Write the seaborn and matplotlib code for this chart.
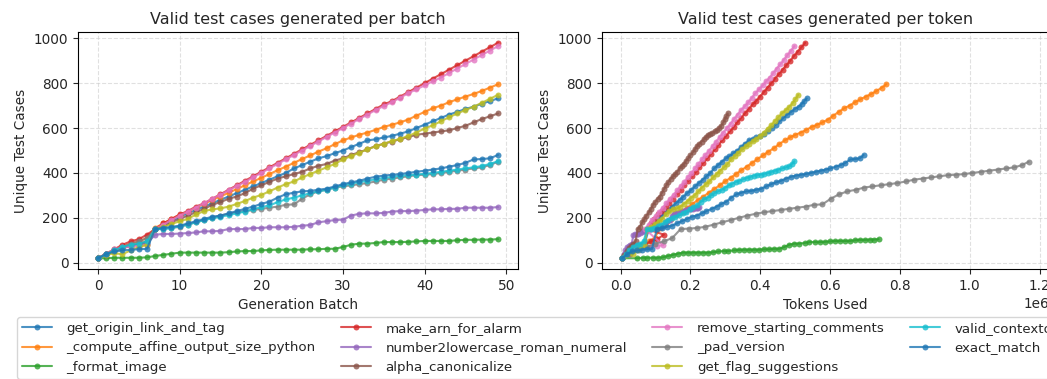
import matplotlib
matplotlib.use("Agg")
import matplotlib.pyplot as plt
import seaborn as sns
import pandas as pd
import numpy as np

sns.set_style("ticks")
plt.rcParams['font.family'] = ['DejaVu Sans']

batches = list(range(50))

names = [
    "get_origin_link_and_tag",
    "_compute_affine_output_size_python",
    "_format_image",
    "make_arn_for_alarm",
    "number2lowercase_roman_numeral",
    "alpha_canonicalize",
    "remove_starting_comments",
    "_pad_version",
    "get_flag_suggestions",
    "valid_contexto",
    "exact_match",
]

# Unique test cases per batch
y_get_origin = [20,40,55,65,75,80,90,150,165,185,205,220,235,250,265,280,295,310,325,340,355,370,385,400,420,435,450,465,475,488,500,515,530,545,550,558,565,575,585,600,615,630,645,660,672,685,695,708,720,732]
y_affine = [20,40,58,72,85,95,110,155,175,195,212,228,245,262,280,295,312,328,345,362,378,395,412,428,445,462,478,495,510,528,545,558,570,580,592,605,615,625,638,655,672,688,700,715,728,740,752,765,780,795]
y_format_image = [20,20,22,22,22,22,24,30,35,40,45,45,45,45,45,45,47,50,52,52,55,57,58,58,58,58,60,60,62,62,70,80,85,85,88,92,92,92,93,95,97,97,97,97,100,102,102,103,103,105]
y_make_arn = [20,40,60,80,95,105,125,150,175,195,215,230,250,265,285,305,325,345,365,385,405,425,445,465,485,505,525,545,565,585,605,625,645,665,685,705,720,740,760,780,800,820,840,860,880,900,920,940,960,980]
y_roman = [20,38,55,70,75,80,85,125,128,128,130,132,135,140,140,142,150,150,150,155,155,158,158,158,160,165,168,180,185,190,192,210,218,220,220,222,228,230,230,232,235,238,238,240,240,245,245,245,245,248]
y_alpha = [20,35,50,65,75,85,95,150,160,180,195,210,225,240,258,270,285,295,310,330,345,360,375,385,395,405,420,432,440,455,465,480,492,505,520,530,540,550,560,570,575,580,585,590,600,610,625,640,652,665]
y_remove_comments = [20,40,60,68,72,75,78,150,170,190,210,228,246,265,285,303,322,342,360,380,400,420,440,460,480,500,520,540,560,580,600,620,640,660,680,698,715,735,755,772,790,808,825,845,865,885,905,925,945,965]
y_pad_version = [20,38,55,70,85,95,110,150,152,155,160,170,180,190,200,210,218,225,230,235,240,245,250,258,260,285,305,318,325,335,340,345,350,355,362,370,375,380,385,390,392,395,400,405,410,415,420,425,435,450]
y_flag = [20,35,42,38,55,70,80,150,160,172,185,195,215,230,238,242,250,262,275,290,302,318,335,350,362,380,395,410,425,440,460,475,490,505,518,530,542,552,565,580,598,612,630,648,665,680,695,712,730,748]
y_contexto = [20,38,55,70,80,85,95,150,150,155,162,170,180,190,198,205,212,220,228,238,248,255,270,282,290,300,310,318,325,335,345,352,360,365,372,378,382,388,390,393,396,400,405,410,415,420,425,430,440,452]
y_exact = [20,38,50,55,58,60,62,150,155,160,165,175,185,195,205,210,220,230,240,250,262,272,290,305,312,318,320,325,330,340,350,358,365,375,383,388,392,395,400,405,410,415,420,428,435,445,460,462,465,480]

# Cumulative tokens used (thousands)
t_get_origin = [5,15,26,37,48,59,70,81,92,103,114,125,136,147,158,169,180,191,202,213,224,235,246,257,268,279,290,301,312,323,334,345,356,367,378,389,400,411,422,433,444,455,466,477,488,499,510,519,526,533]
t_affine = [5,20,36,51,67,82,98,113,129,144,160,175,191,206,222,237,253,268,284,299,315,330,346,361,377,392,408,423,439,454,470,485,501,516,532,547,563,578,594,609,625,640,656,671,687,702,718,733,748,761]
t_format_image = [5,48,63,77,92,106,121,135,150,164,179,193,208,222,237,251,266,280,295,309,324,338,353,367,382,396,411,425,440,454,469,483,498,512,527,541,556,570,585,599,614,628,643,657,672,686,701,715,727,739]
t_make_arn = [5,25,45,65,88,105,124,75,86,97,108,118,129,140,151,162,172,183,194,205,216,226,237,248,259,270,280,291,302,313,324,334,345,356,367,378,388,399,410,421,432,442,453,464,475,486,496,507,518,529]
t_roman = [5,9,14,18,23,27,32,37,41,46,50,55,60,64,69,73,78,83,87,92,96,101,106,110,115,119,124,129,133,138,142,147,152,156,161,165,170,175,179,184,188,193,198,202,207,211,216,220,223,226]
t_alpha = [5,11,17,24,30,36,43,49,55,62,68,74,81,87,93,99,106,112,118,125,131,137,144,150,156,162,169,175,181,188,194,200,207,213,219,225,232,238,244,251,257,263,270,276,282,288,294,299,303,307]
t_remove_comments = [5,25,45,65,85,103,122,70,80,90,101,111,121,131,141,152,162,172,182,192,203,213,223,233,243,254,264,274,284,294,305,315,325,335,345,356,366,376,386,396,407,417,427,437,447,458,468,478,488,498]
t_pad_version = [5,28,52,76,100,124,148,172,196,220,243,267,291,315,339,363,387,411,435,459,482,506,530,554,578,602,626,650,674,698,721,745,769,793,817,841,865,889,913,937,960,984,1008,1032,1056,1080,1104,1128,1150,1169]
t_flag = [5,15,25,36,46,57,67,77,88,98,109,119,129,140,150,161,171,181,192,202,213,223,233,244,254,265,275,285,296,306,317,327,337,348,358,369,379,389,400,410,421,431,441,452,462,473,483,493,501,509]
t_contexto = [5,15,25,35,46,56,66,76,86,96,107,117,127,137,147,157,168,178,188,198,208,218,229,239,249,259,269,279,290,300,310,320,330,340,351,361,371,381,391,401,412,422,432,442,452,462,473,483,491,498]
t_exact = [5,19,33,48,62,76,90,104,119,133,147,161,175,190,204,218,232,246,261,275,289,303,317,332,346,360,374,388,403,417,431,445,459,474,488,502,516,530,545,559,573,587,601,616,630,644,658,672,685,696]

ys = [y_get_origin, y_affine, y_format_image, y_make_arn, y_roman, y_alpha,
      y_remove_comments, y_pad_version, y_flag, y_contexto, y_exact]
ts = [t_get_origin, t_affine, t_format_image, t_make_arn, t_roman, t_alpha,
      t_remove_comments, t_pad_version, t_flag, t_contexto, t_exact]

colors = sns.color_palette("tab10", 10)
colors = colors + [colors[0]]

W, H = 1047, 379
fig = plt.figure(figsize=(W / 100, H / 100), dpi=100)
ax1 = fig.add_axes([78 / W, 1 - 269 / H, 440 / W, 237 / H])
ax2 = fig.add_axes([602 / W, 1 - 269 / H, 447 / W, 237 / H])

for name, y, t, c in zip(names, ys, ts, colors):
    df = pd.DataFrame({"batch": batches, "cases": y,
                       "tokens": np.array(t, dtype=float) * 1000.0})
    sns.lineplot(data=df, x="batch", y="cases", ax=ax1, color=c, marker="o",
                 markersize=4.3, markeredgewidth=0, alpha=0.8,
                 sort=False, estimator=None, legend=False)
    sns.lineplot(data=df, x="tokens", y="cases", ax=ax2, color=c, marker="o",
                 markersize=4.3, markeredgewidth=0, alpha=0.8,
                 sort=False, estimator=None, legend=False)

for ax, title, xl in [(ax1, "Valid test cases generated per batch", "Generation Batch"),
                      (ax2, "Valid test cases generated per token", "Tokens Used")]:
    ax.set_title(title, fontsize=11.5, pad=6)
    ax.set_xlabel(xl, fontsize=9.8)
    ax.set_ylabel("Unique Test Cases", fontsize=9.8)
    ax.grid(True, linestyle="--", alpha=0.6)
    for s in ax.spines.values():
        s.set_visible(True)
        s.set_color("black")
    ax.tick_params(labelsize=9.8)
ax2.xaxis.get_offset_text().set_fontsize(9.8)

fig.legend(ax1.get_lines()[:len(names)], names, loc="upper left",
           bbox_to_anchor=(17 / W, 1 - 317 / H), borderaxespad=0,
           ncol=4, fontsize=9.6, frameon=True, handlelength=2.25,
           handletextpad=1.1, columnspacing=1.9, borderpad=0.35)

fig.savefig("out.png", dpi=100)
